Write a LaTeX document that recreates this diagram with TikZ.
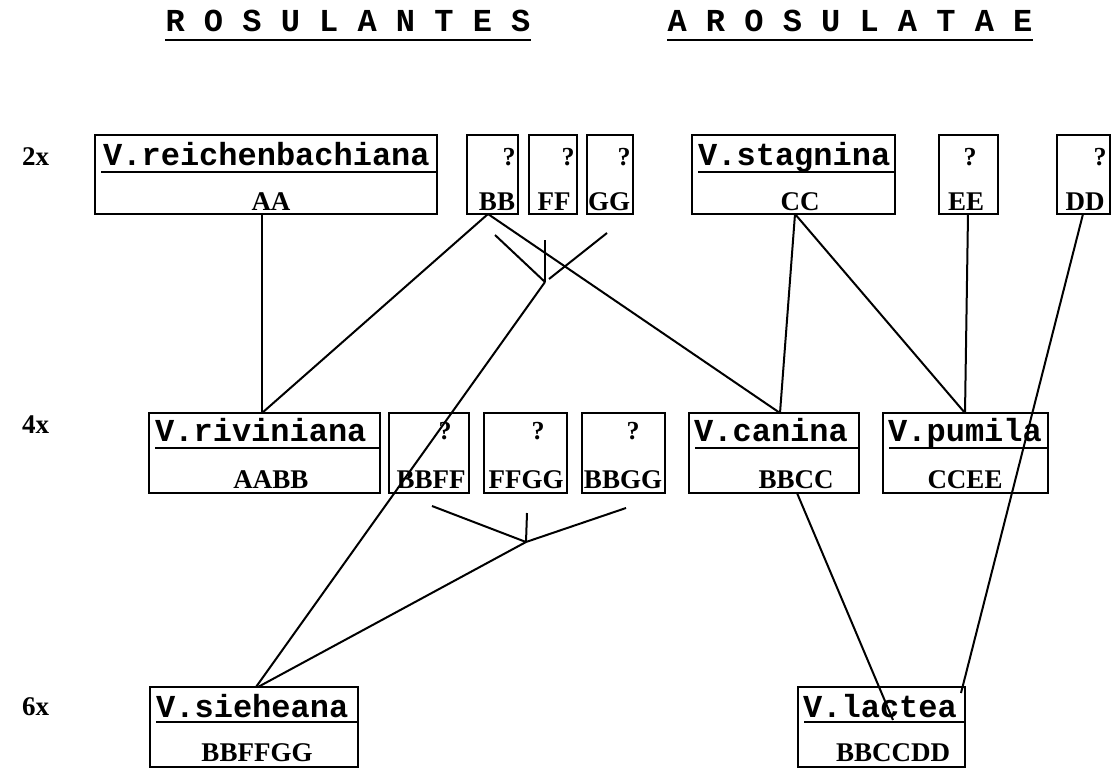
\documentclass[tikz,border=0pt]{standalone}
\usepackage{fontspec}
\setmainfont{Liberation Serif}
\setmonofont{Liberation Mono}
\usetikzlibrary{calc}
\begin{document}
\begin{tikzpicture}[x=1pt,y=-1pt,
  bx/.style={draw, line width=2.2pt, anchor=north west, inner sep=0pt, outer sep=0pt},
  nm/.style={font=\ttfamily\bfseries\fontsize{32}{32}\selectfont, anchor=base west, inner sep=0pt},
  gn/.style={font=\bfseries\fontsize{27}{27}\selectfont, anchor=base, inner sep=0pt},
  qm/.style={font=\bfseries\fontsize{26}{26}\selectfont, anchor=base, inner sep=0pt},
  lvl/.style={font=\bfseries\fontsize{27}{27}\selectfont, anchor=base west, inner sep=0pt},
  ttl/.style={font=\ttfamily\bfseries\fontsize{32}{32}\selectfont, anchor=base, inner sep=0pt},
  ul/.style={line width=2.6pt},
  ln/.style={line width=2pt}]
\useasboundingbox (0,0) rectangle (1116,769);
\fill[white] (0,0) rectangle (1116,769);
% titles
\node[ttl] (t1) at (348,31) {R O S U L A N T E S};
\node[ttl] (t2) at (850,31) {A R O S U L A T A E};
\draw[ul] (t1.base west) ++(0,9) coordinate (t1a) -- ($(t1.base east)+(0,9)$);
\draw[ul] ($(t2.base west)+(0,9)$) -- ($(t2.base east)+(0,9)$);
% level labels
\node[lvl] (l2) at (22,165) {2x};
\node[lvl] (l4) at (22,433) {4x};
\node[lvl] (l6) at (22,715) {6x};
% row 1 boxes
\node[bx, minimum width=342pt, minimum height=79pt] (reich) at (95,135) {};
\node[bx, minimum width=51pt, minimum height=79pt] (bb) at (467,135) {};
\node[bx, minimum width=48pt, minimum height=79pt] (ff) at (529,135) {};
\node[bx, minimum width=46pt, minimum height=79pt] (gg) at (587,135) {};
\node[bx, minimum width=203pt, minimum height=79pt] (stag) at (692,135) {};
\node[bx, minimum width=59pt, minimum height=79pt] (ee) at (939,135) {};
\node[bx, minimum width=53pt, minimum height=79pt] (dd) at (1057,135) {};
% row 2 boxes
\node[bx, minimum width=231pt, minimum height=80pt] (riv) at (149,413) {};
\node[bx, minimum width=80pt, minimum height=80pt] (bbff) at (389,413) {};
\node[bx, minimum width=83pt, minimum height=80pt] (ffgg) at (484,413) {};
\node[bx, minimum width=83pt, minimum height=80pt] (bbgg) at (582,413) {};
\node[bx, minimum width=170pt, minimum height=80pt] (can) at (689,413) {};
\node[bx, minimum width=165pt, minimum height=80pt] (pum) at (883,413) {};
% row 3 boxes
\node[bx, minimum width=208pt, minimum height=80pt] (sie) at (150,687) {};
\node[bx, minimum width=167pt, minimum height=80pt] (lac) at (798,687) {};
% names
\node[nm] (nreich) at ($(reich.north west)+(8,30)$) {V.reichenbachiana};
\node[nm] (nstag) at ($(stag.north west)+(6,30)$) {V.stagnina};
\node[nm] (nriv) at ($(riv.north west)+(6,28)$) {V.riviniana};
\node[nm] (ncan) at ($(can.north west)+(5,28)$) {V.canina};
\node[nm] (npum) at ($(pum.north west)+(5,28)$) {V.pumila};
\node[nm] (nsie) at ($(sie.north west)+(6,30)$) {V.sieheana};
\node[nm] (nlac) at ($(lac.north west)+(5,30)$) {V.lactea};
% underlines
\foreach \b/\d in {reich/37,stag/37,riv/35,can/35,pum/35,sie/35,lac/35}{
  \draw[ul] ($(\b.north west)+(6,\d)$) -- ($(\b.north east)+(0,\d)$);
}
% question marks
\node[qm] (qbb) at (509,165) {?};
\node[qm] (qff) at (568,165) {?};
\node[qm] (qgg) at (624,165) {?};
\node[qm] (qee) at (970,165) {?};
\node[qm] (qdd) at (1100,165) {?};
\node[qm] (qbbff) at (445,439) {?};
\node[qm] (qffgg) at (538,439) {?};
\node[qm] (qbbgg) at (633,439) {?};
% genome texts
\node[gn] (gaa) at (271,210) {AA};
\node[gn] (gbb) at (497,210) {BB};
\node[gn] (gff) at (554,210) {FF};
\node[gn] (ggg) at (609,210) {GG};
\node[gn] (gcc) at (800,210) {CC};
\node[gn] (gee) at (966,210) {EE};
\node[gn] (gdd) at (1085,210) {DD};
\node[gn] (gaabb) at (271,488) {AABB};
\node[gn] (gbbff) at (431,488) {BBFF};
\node[gn] (gffgg) at (526,488) {FFGG};
\node[gn] (gbbgg) at (623,488) {BBGG};
\node[gn] (gbbcc) at (796,488) {BBCC};
\node[gn] (gccee) at (965,488) {CCEE};
\node[gn] (gbbffgg) at (257,761) {BBFFGG};
\node[gn] (gbbccdd) at (893,761) {BBCCDD};
% connectors
\draw[ln] ($(reich.south west)+(167,0)$) -- ($(riv.north west)+(113,0)$);
\draw[ln] ($(bb.south west)+(21,0)$) -- ($(riv.north west)+(113,0)$);
\draw[ln] ($(bb.south west)+(21,0)$) -- ($(can.north west)+(91,0)$);
\draw[ln] ($(stag.south west)+(103,0)$) -- ($(can.north west)+(91,0)$);
\draw[ln] ($(stag.south west)+(103,0)$) -- ($(pum.north west)+(82,0)$);
\draw[ln] ($(ee.south west)+(29,0)$) -- ($(pum.north west)+(82,0)$);
\draw[ln] ($(dd.south west)+(26,0)$) -- ($(lac.north east)+(-4,6)$);
\draw[ln] ($(can.south west)+(108,0)$) -- ($(lac.north west)+(95,33)$);
% upper junction
\coordinate (j1) at (545,282);
\coordinate (j1a) at (495,235);
\coordinate (j1b) at (607,233);
\coordinate (j1t) at (545,240);
\draw[ln] (j1a) -- (j1);
\draw[ln] (j1b) -- ($(j1)+(4,-3)$);
\draw[ln] (j1t) -- (j1);
\draw[ln] (j1) -- ($(sie.north west)+(106,0)$);
% lower junction
\coordinate (j2) at (526,542);
\coordinate (j2a) at (432,506);
\coordinate (j2b) at (626,508);
\coordinate (j2t) at (527,513);
\draw[ln] (j2a) -- (j2);
\draw[ln] (j2b) -- (j2);
\draw[ln] (j2t) -- (j2);
\draw[ln] (j2) -- ($(sie.north west)+(108,0)$);
\end{tikzpicture}
\end{document}
